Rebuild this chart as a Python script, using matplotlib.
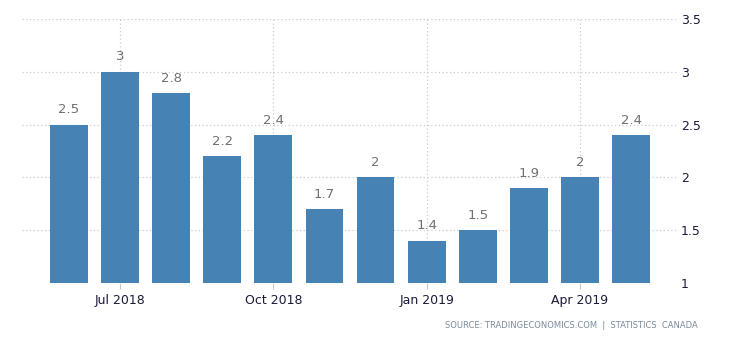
import matplotlib.pyplot as plt
import numpy as np

months = ["Jun 2018", "Jul 2018", "Aug 2018", "Sep 2018", "Oct 2018", "Nov 2018",
          "Dec 2018", "Jan 2019", "Feb 2019", "Mar 2019", "Apr 2019", "May 2019"]
values = [2.5, 3, 2.8, 2.2, 2.4, 1.7, 2, 1.4, 1.5, 1.9, 2, 2.4]
tick_idx = [1, 4, 7, 10]
yticks = [1, 1.5, 2, 2.5, 3, 3.5]
ytick_labels = ["1", "1.5", "2", "2.5", "3", "3.5"]

fig = plt.figure(figsize=(7.3, 3.4), dpi=100)
ax = fig.add_axes([22 / 730, 1 - 283 / 340, (677 - 22) / 730, (283 - 19) / 340])

x = np.arange(len(values))
bars = ax.bar(x, np.array(values) - 1, bottom=1, width=0.74, color="#4682b4", zorder=3)

for xi, v in zip(x, values):
    ax.annotate(f"{v:g}", (xi, v), xytext=(0, 6), textcoords="offset points",
                ha="center", va="bottom", fontsize=9.5, color="#707070")

ax.set_xlim(-0.92, 11.9)
ax.set_ylim(1, 3.5)
ax.set_yticks(yticks)
ax.set_yticklabels(ytick_labels)
ax.yaxis.tick_right()
ax.set_xticks(tick_idx)
ax.set_xticklabels([months[i] for i in tick_idx])

# dotted grid both ways, light grey
ax.grid(True, axis="both", linestyle=(0, (1, 2)), color="#cccccc", linewidth=0.9, zorder=0)
for s in ax.spines.values():
    s.set_visible(False)
ax.tick_params(axis="y", length=0, pad=3, labelsize=9, labelcolor="#1a1a3a")
ax.tick_params(axis="x", length=4, color="#c8c8c8", pad=4, labelsize=9, labelcolor="#1a1a3a")

fig.text(698 / 730, 1 - 325 / 340, "SOURCE: TRADINGECONOMICS.COM  |  STATISTICS  CANADA",
         ha="right", va="center", fontsize=6.0, color="#7a8a9a")

fig.savefig("out.png", dpi=100, facecolor="white")
